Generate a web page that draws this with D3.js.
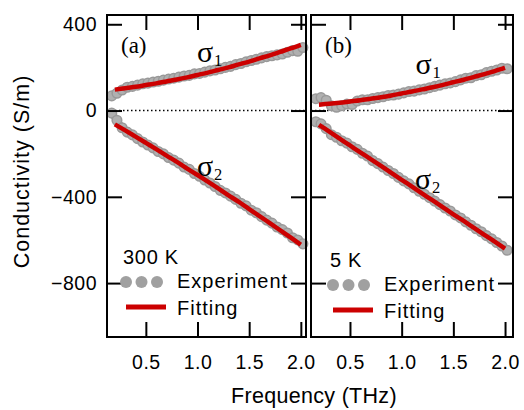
<!DOCTYPE html>
<html>
<head>
<meta charset="utf-8">
<script src="https://cdn.jsdelivr.net/npm/d3@7"></script>
<style>
  body { margin: 0; background: #fff; }
  svg text { font-family: "Liberation Sans", Arial, sans-serif; fill: #000; }
</style>
</head>
<body>
<div id="chart"></div>
<script>
// frequencies (THz)
const expFreq = [0.17, 0.22, 0.27, 0.32, 0.37, 0.42, 0.47, 0.52, 0.57, 0.62, 0.67, 0.72, 0.77,
                 0.82, 0.87, 0.92, 0.97, 1.02, 1.07, 1.12, 1.17, 1.22, 1.27, 1.32, 1.37, 1.42,
                 1.47, 1.52, 1.57, 1.62, 1.67, 1.72, 1.77, 1.82, 1.87, 1.92, 1.97, 2.02];
const fitFreq = [0.2, 0.3, 0.4, 0.5, 0.6, 0.7, 0.8, 0.9, 1.0, 1.1, 1.2, 1.3, 1.4, 1.5, 1.6,
                 1.7, 1.8, 1.9, 2.0];

// 300 K (a)
const exp300s1 = [68, 80, 95, 108, 112, 118, 124, 127, 132, 136, 141, 146, 150, 155, 160, 163,
                  170, 172, 178, 184, 188, 194, 200, 205, 213, 218, 226, 232, 238, 244, 250, 254,
                  258, 262, 270, 278, 275, 292];
const exp300s2 = [-12, -45, -80, -100, -113, -130, -146, -160, -173, -190, -201, -218, -230, -244,
                  -262, -273, -292, -305, -322, -336, -352, -370, -382, -397, -412, -430, -442,
                  -462, -474, -492, -508, -522, -540, -552, -568, -590, -600, -618];
const fit300s1 = [97, 103, 110, 118, 126, 135, 144, 154, 165, 176, 188, 200, 214, 227, 242, 256,
                  272, 288, 305];
const fit300s2 = [-64, -92, -121, -150, -179, -209, -238, -269, -299, -330, -361, -393, -424,
                  -457, -489, -522, -555, -588, -622];

// 5 K (b)
const exp5s1 = [55, 60, 48, 22, 15, 22, 30, 28, 44, 50, 50, 56, 60, 64, 70, 72, 76, 82, 88, 90,
                96, 100, 106, 112, 118, 124, 128, 134, 142, 150, 152, 162, 166, 176, 182, 188,
                196, 194];
const exp5s2 = [-52, -62, -84, -112, -124, -140, -151, -168, -180, -198, -211, -232, -246, -262,
                -278, -292, -310, -326, -340, -358, -374, -388, -404, -420, -436, -452, -466,
                -484, -498, -516, -532, -548, -562, -580, -595, -612, -628, -648];
const fit5s1 = [27, 31, 36, 42, 48, 55, 62, 70, 79, 88, 98, 108, 119, 131, 143, 156, 169, 183, 198];
const fit5s2 = [-66, -98, -130, -162, -194, -225, -257, -289, -321, -353, -385, -417, -449, -481,
                -512, -544, -576, -608, -640];

const xTicks = [0.5, 1.0, 1.5, 2.0];
const yTicks = [400, 0, -400, -800];

const W = 524, H = 410;
const plotTop = 15, plotBottom = 337;

const svg = d3.select("#chart").append("svg")
    .attr("width", W)
    .attr("height", H);

const y = d3.scaleLinear().domain([-1050, 443]).range([plotBottom, plotTop]);

const panels = [
    {x0: 107, x1: 306, dom: [0.124, 2.05], s1: exp300s1, s2: exp300s2, f1: fit300s1, f2: fit300s2,
     tag: "(a)", tagX: 121, temp: "300 K", tx: 123, ty: 264, dy: 0,
     sig1: [197, 61.5], sig2: [197, 175.5]},
    {x0: 311, x1: 513, dom: [0.123, 2.077], s1: exp5s1, s2: exp5s2, f1: fit5s1, f2: fit5s2,
     tag: "(b)", tagX: 325, temp: "5 K", tx: 330, ty: 266.5, dy: 3,
     sig1: [415.5, 73.5], sig2: [415, 188.5]}
];

const grey = "#a0a0a0";
const red = "#cc0000";

panels.forEach((p, pi) => {
    const x = d3.scaleLinear().domain(p.dom).range([p.x0, p.x1]);
    const g = svg.append("g");

    // zero line
    g.append("line")
        .attr("x1", p.x0).attr("x2", p.x1)
        .attr("y1", y(0)).attr("y2", y(0))
        .attr("stroke", "#000")
        .attr("stroke-width", 1.5)
        .attr("stroke-dasharray", "1.5,2.5");

    // experiment
    [p.s1, p.s2].forEach(vals => {
        const pts = expFreq.map((f, i) => [f, vals[i]]);
        g.append("path")
            .datum(pts)
            .attr("fill", "none")
            .attr("stroke", grey)
            .attr("stroke-width", 7)
            .attr("stroke-linejoin", "round")
            .attr("d", d3.line().x(d => x(d[0])).y(d => y(d[1])));
        g.selectAll(null)
            .data(pts)
            .enter().append("circle")
            .attr("cx", d => x(d[0]))
            .attr("cy", d => y(d[1]))
            .attr("r", 4.8)
            .attr("fill", "#b0b0b0")
            .attr("stroke", "#999999")
            .attr("stroke-width", 1.5);
    });

    // fitting
    [p.f1, p.f2].forEach(vals => {
        g.append("path")
            .datum(fitFreq.map((f, i) => [f, vals[i]]))
            .attr("fill", "none")
            .attr("stroke", red)
            .attr("stroke-width", 4.5)
            .attr("d", d3.line().curve(d3.curveMonotoneX).x(d => x(d[0])).y(d => y(d[1])));
    });

    // axes, ticks inward
    const tl = 15;
    g.append("g")
        .attr("transform", "translate(0," + plotBottom + ")")
        .call(d3.axisBottom(x).tickValues(xTicks).tickFormat(d3.format(".1f"))
            .tickSizeInner(-tl).tickSizeOuter(0).tickPadding(18));
    g.append("g")
        .attr("transform", "translate(0," + plotTop + ")")
        .call(d3.axisTop(x).tickValues(xTicks).tickFormat("").tickSizeInner(-tl).tickSizeOuter(0));
    g.append("g")
        .attr("transform", "translate(" + p.x0 + ",0)")
        .call(d3.axisLeft(y).tickValues(yTicks).tickFormat(pi === 0 ? d3.format("d") : "")
            .tickSizeInner(-tl).tickSizeOuter(0).tickPadding(10));
    g.append("g")
        .attr("transform", "translate(" + p.x1 + ",0)")
        .call(d3.axisRight(y).tickValues(yTicks).tickFormat("").tickSizeInner(-tl).tickSizeOuter(0));

    g.selectAll(".domain").remove();
    g.selectAll(".tick line").attr("stroke", "#000").attr("stroke-width", 2);
    g.selectAll(".tick text")
        .style("font-family", "'Liberation Sans', Arial, sans-serif")
        .style("font-size", "19.5px")
        .style("letter-spacing", "0.5px")
        .attr("fill", "#000");

    // frame
    g.append("rect")
        .attr("x", p.x0).attr("y", plotTop)
        .attr("width", p.x1 - p.x0).attr("height", plotBottom - plotTop)
        .attr("fill", "none")
        .attr("stroke", "#000")
        .attr("stroke-width", 2);

    // panel tag
    g.append("text")
        .attr("x", p.tagX).attr("y", 53)
        .style("font-family", "'Liberation Serif', 'Times New Roman', serif")
        .style("font-size", "23px")
        .text(p.tag);

    // sigma labels
    [[p.sig1, "1"], [p.sig2, "2"]].forEach(([pos, sub]) => {
        g.append("text")
            .attr("x", pos[0]).attr("y", pos[1])
            .style("font-family", "'Liberation Serif', 'Times New Roman', serif")
            .style("font-size", "30px")
            .text("σ");
        g.append("text")
            .attr("x", pos[0] + 17).attr("y", pos[1] + 4.5)
            .style("font-family", "'Liberation Serif', 'Times New Roman', serif")
            .style("font-size", "16.5px")
            .text(sub);
    });

    // legend
    const lx = p.tx + 3, ld = p.dy;
    g.append("text")
        .attr("x", p.tx).attr("y", p.ty)
        .style("font-size", "20px")
        .style("letter-spacing", "0.7px")
        .text(p.temp);
    [0, 15.5, 31].forEach(off => {
        g.append("circle")
            .attr("cx", lx + off).attr("cy", 282 + ld)
            .attr("r", 6)
            .attr("fill", grey);
    });
    g.append("text")
        .attr("x", lx + 51).attr("y", 288 + ld)
        .style("font-size", "20px")
        .style("letter-spacing", "1px")
        .text("Experiment");
    g.append("line")
        .attr("x1", lx).attr("x2", lx + 40)
        .attr("y1", 307 + ld).attr("y2", 307 + ld)
        .attr("stroke", red)
        .attr("stroke-width", 5);
    g.append("text")
        .attr("x", lx + 51).attr("y", 314.5 + ld)
        .style("font-size", "20px")
        .style("letter-spacing", "1px")
        .text("Fitting");
});

// axis titles
svg.append("text")
    .attr("transform", "translate(28.5,171.5) rotate(-90)")
    .attr("text-anchor", "middle")
    .style("font-size", "21.5px")
    .style("letter-spacing", "1px")
    .text("Conductivity (S/m)");

svg.append("text")
    .attr("x", 314).attr("y", 403)
    .attr("text-anchor", "middle")
    .style("font-size", "21.5px")
    .style("letter-spacing", "0.3px")
    .text("Frequency (THz)");
</script>
</body>
</html>
